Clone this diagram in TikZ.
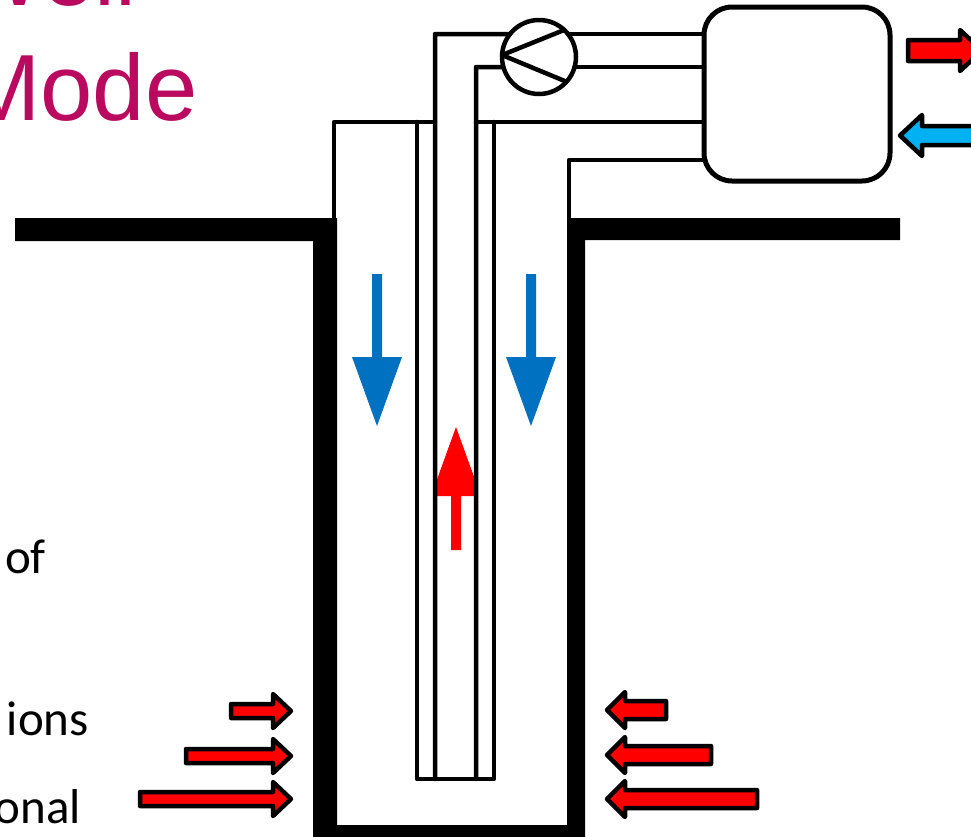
\documentclass[tikz,border=0pt]{standalone}
\usepackage{fontspec}
\setmainfont{Carlito}
\newfontfamily\titlefont{Liberation Sans}
\definecolor{hot}{RGB}{255,0,0}
\definecolor{cold}{RGB}{0,176,240}
\definecolor{flowblue}{RGB}{0,112,192}
\definecolor{titlemag}{RGB}{185,10,95}
\tikzset{
  pipe/.style={line width=4.5pt, line join=round, line cap=round},
  blk/.style={draw=black, line width=4.5pt, line join=round},
  titletext/.style={inner sep=0pt, anchor=base west, text=titlemag, font=\titlefont\fontsize{94}{94}\selectfont},
  bodytext/.style={inner sep=0pt, anchor=base east, font=\fontsize{49}{49}\selectfont},
}
% block arrow: fill, tail x, head-base x, tip x, centre y, body half-height, head half-height
\newcommand{\harrow}[7]{\draw[blk, fill=#1] (#2,#5-#6) -- (#3,#5-#6) -- (#3,#5-#7) -- (#4,#5) -- (#3,#5+#7) -- (#3,#5+#6) -- (#2,#5+#6) -- cycle;}
\begin{document}
\begin{tikzpicture}[x=1pt,y=-1pt]
\useasboundingbox (0,0) rectangle (971,836);
\clip (0,0) rectangle (971,836);
\fill[white] (0,0) rectangle (971,836);

% title fragments
\node[titletext] (title1) at (-45,5) {Well};
\node[titletext] (title2) at (-38,120) {Mode};

% body text fragments
\node[bodytext] (txt1) at (46,573) {of};
\node[bodytext] (txt2) at (89,735) {ions};
\node[bodytext] (txt3) at (81,823) {onal};

% ground and well
\fill[black] (15,218) -- (337,218) -- (337,825) -- (567,825) -- (567,218) -- (900,218)
  -- (900,240) -- (585,240) -- (585,845) -- (313,845) -- (313,241) -- (15,241) -- cycle;

% pump and heat pump unit
\node[circle, draw, line width=4.5pt, minimum size=74pt, inner sep=0pt, outer sep=0pt] (pump) at (539,57) {};
\node[draw, line width=5pt, rounded corners=28pt, minimum width=186pt, minimum height=174pt, inner sep=0pt, outer sep=0pt] (hp) at (797,94) {};

% flow arrows in the well
\fill[flowblue] (372,274) -- (382,274) -- (382,357) -- (402,357) -- (377,426) -- (352,357) -- (372,357) -- cycle;
\fill[flowblue] (526,274) -- (536,274) -- (536,357) -- (556,357) -- (531,426) -- (506,357) -- (526,357) -- cycle;
\begin{scope}
  \clip (437,400) rectangle (474,560);
  \fill[hot] (451,550) -- (461,550) -- (461,496) -- (481,496) -- (456,427) -- (431,496) -- (451,496) -- cycle;
\end{scope}

% pipes
\coordinate (t3) at (476,122);
\coordinate (t4) at (569,160);
\draw[pipe] (pump.142) -- (435,34) -- (435,779);
\draw[pipe] (pump.-164) -- (476,67) -- (476,779);
\draw[pipe] (pump.38) -- (pump.38 -| hp.west);
\draw[pipe] (pump.-16) -- (pump.-16 -| hp.west);
\draw[pipe] (334,218) -- (334,122) -- (435,122);
\draw[pipe] (t3) -- (t3 -| hp.west);
\draw[pipe] (417,122) -- (417,779) -- (494,779) -- (494,122);
\draw[pipe] (569,218) -- (t4) -- (t4 -| hp.west);
\draw[pipe] (pump.47) -- (pump.177) -- (pump.-42);

% heat arrows
\harrow{hot}{231}{273}{291}{711}{7}{17}
\harrow{hot}{186}{273}{291}{756}{7}{17}
\harrow{hot}{140}{273}{291}{799}{7}{17}
\harrow{hot}{666}{625}{607}{710}{9}{18}
\harrow{hot}{711}{625}{607}{755}{9}{18}
\harrow{hot}{757}{625}{607}{799}{9}{18}
\harrow{hot}{908}{960}{982}{50.5}{10.5}{20.5}
\harrow{cold}{1000}{922}{900}{135.5}{9.5}{20.5}
\end{tikzpicture}
\end{document}
